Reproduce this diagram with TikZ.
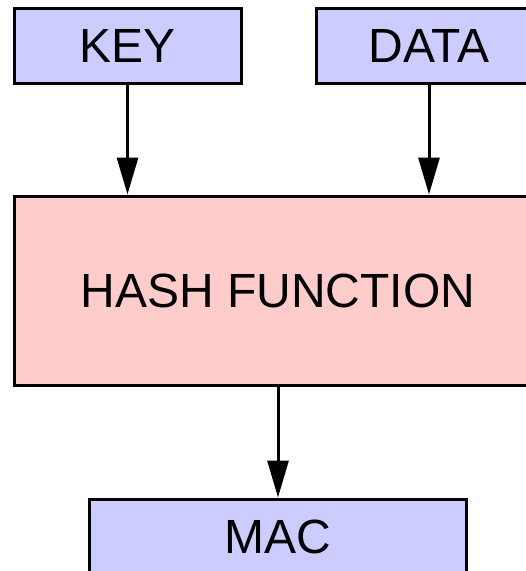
\documentclass[tikz,border=0pt]{standalone}
\usepackage{fontspec}
\setmainfont{Liberation Sans}
\usetikzlibrary{arrows.meta}
\definecolor{boxblue}{HTML}{CCCCFF}
\definecolor{boxpink}{HTML}{FFCCCC}
\begin{document}
\begin{tikzpicture}[x=1pt,y=-1pt,
  box/.style={draw=black,line width=3pt,inner sep=0pt,font=\fontsize{48}{48}\selectfont},
  inbox/.style={box,fill=boxblue},
  hashbox/.style={box,fill=boxpink},
  conn/.style={line width=3pt,-{Triangle[length=37pt,width=21pt]}}]
\useasboundingbox (0,0) rectangle (526,571);
\clip (0,0) rectangle (526,571);
\node[inbox,minimum width=227pt,minimum height=75pt] (key) at (127.5,45.5) {KEY};
\node[inbox,minimum width=226pt,minimum height=75pt] (data) at (429,45.5) {DATA};
\node[hashbox,minimum width=528pt,minimum height=189pt] (hash) at (278,290.5) {HASH FUNCTION};
\node[inbox,minimum width=377pt,minimum height=75pt] (mac) at (278,536.5) {MAC};
\draw[conn] (key.south) -- (key.south |- hash.north);
\draw[conn] (data.south) -- (data.south |- hash.north);
\draw[conn] (hash.south) -- (mac.north);
\end{tikzpicture}
\end{document}
